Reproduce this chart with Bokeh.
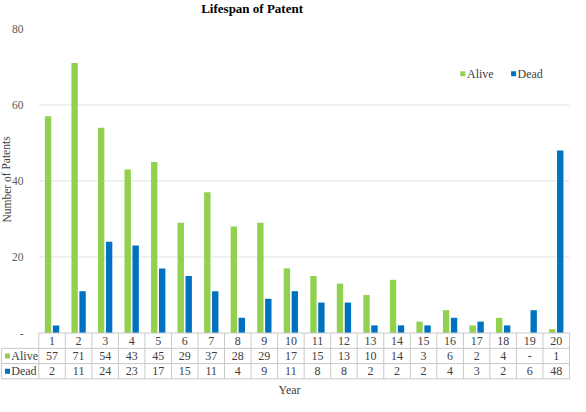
from bokeh.plotting import figure
from bokeh.models import Range1d, ColumnDataSource
from bokeh.core.properties import value
from bokeh.embed import file_html
from bokeh.resources import INLINE

# ---------------- data ----------------
years = [str(i) for i in range(1, 21)]
alive = [57, 71, 54, 43, 45, 29, 37, 28, 29, 17, 15, 13, 10, 14, 3, 6, 2, 4, 0, 1]
dead = [2, 11, 24, 23, 17, 15, 11, 4, 9, 11, 8, 8, 2, 2, 2, 4, 3, 2, 6, 48]
series_names = ["Alive", "Dead"]
y_ticks = [0, 20, 40, 60, 80]
y_tick_labels = ["-", "20", "40", "60", "80"]
grid_values = [20, 40, 60]
title_text = "Lifespan of Patent"
y_title = "Number of Patents"
x_title = "Year"

GREEN = "#92D050"
BLUE = "#0070C0"
TXT = "#404040"
TICK = "#595959"
BORDER = "#C8C8C8"
GRID = "#E3E3E3"
FONT = "'Liberation Serif', serif"

# ---------------- layout (pixels) ----------------
W, H = 570, 396
L_PX, R_PX = 38.3, 569.0      # left/right of category area
Y0_PX, Y80_PX = 332.5, 28.4   # pixel rows of value 0 and 80
n = len(years)
ux = (R_PX - L_PX) / n
uy = (Y0_PX - Y80_PX) / 80.0


def dx(px):
    return 0.5 + (px - L_PX) / ux


def dy(py):
    return (Y0_PX - py) / uy


p = figure(width=W, height=H, output_backend="svg", toolbar_location=None,
           x_range=Range1d(dx(0), dx(W)), y_range=Range1d(dy(H), dy(0)),
           x_axis_location=None, y_axis_location=None, min_border=0)
p.outline_line_color = None
p.background_fill_color = "white"
p.border_fill_color = "white"
p.xgrid.visible = False
p.ygrid.visible = False

xs = [i + 1 for i in range(n)]

# gridlines
p.segment(x0=[0.5] * len(grid_values), x1=[n + 0.5] * len(grid_values),
          y0=grid_values, y1=grid_values, line_color=GRID, line_width=1)

# bars
off = 0.15
bw = 0.24
p.vbar(x=[x - off for x in xs], top=alive, bottom=0, width=bw,
       fill_color=GREEN, line_color=None)
p.vbar(x=[x + off for x in xs], top=dead, bottom=0, width=bw,
       fill_color=BLUE, line_color=None)

# y tick labels
p.text(x=[dx(23.0)] * len(y_ticks), y=y_ticks, text=y_tick_labels,
       text_align="right", text_baseline="middle", text_color=TICK,
       text_font=value(FONT), text_font_size="11.5px")

# y axis title
p.text(x=[dx(6.0)], y=[dy(179.0)], text=[y_title], angle=1.5708,
       text_align="center", text_baseline="middle", text_color=TXT,
       text_font=value(FONT), text_font_size="11.5px")

# title
p.text(x=[dx(251.6)], y=[dy(7.5)], text=[title_text], text_align="center",
       text_baseline="middle", text_color="#000000", text_font=value(FONT),
       text_font_size="13px", text_font_style="bold")

# legend
leg_y = dy(73.3)
p.rect(x=[dx(462.3), dx(513.1)], y=[leg_y, leg_y], width=5, height=5,
       width_units="screen", height_units="screen",
       fill_color=[GREEN, BLUE], line_color=None)
p.text(x=[dx(466.5), dx(517.0)], y=[leg_y, leg_y], text=series_names,
       text_align="left", text_baseline="middle", text_color=TXT,
       text_font=value(FONT), text_font_size="12px")

# ---------------- data table ----------------
row_px = [Y0_PX, 347.8, 363.1, 378.4]
tbl_left = dx(0.8)
right = n + 0.5
# horizontal lines
p.segment(x0=[0.5, tbl_left, tbl_left, tbl_left],
          x1=[right] * 4,
          y0=[dy(v) for v in row_px], y1=[dy(v) for v in row_px],
          line_color=BORDER, line_width=1)
# vertical lines
vx = [i + 0.5 for i in range(n + 1)]
p.segment(x0=vx, x1=vx, y0=[dy(row_px[0])] * len(vx), y1=[dy(row_px[3])] * len(vx),
          line_color=BORDER, line_width=1)
p.segment(x0=[tbl_left], x1=[tbl_left], y0=[dy(row_px[1])], y1=[dy(row_px[3])],
          line_color=BORDER, line_width=1)

mid = [dy((row_px[k] + row_px[k + 1]) / 2) for k in range(3)]
alive_labels = [str(v) if v else "-" for v in alive]
dead_labels = [str(v) if v else "-" for v in dead]
tsrc = ColumnDataSource(dict(
    x=xs * 3,
    y=[mid[0]] * n + [mid[1]] * n + [mid[2]] * n,
    t=years + alive_labels + dead_labels,
))
p.text(x="x", y="y", text="t", source=tsrc, text_align="center",
       text_baseline="middle", text_color=TXT, text_font=value(FONT),
       text_font_size="12px")

# table legend column
p.rect(x=[dx(7.0), dx(7.0)], y=[mid[1], mid[2]], width=5, height=5,
       width_units="screen", height_units="screen",
       fill_color=[GREEN, BLUE], line_color=None)
p.text(x=[dx(10.8), dx(10.8)], y=[mid[1], mid[2]], text=series_names,
       text_align="left", text_baseline="middle", text_color=TXT,
       text_font=value(FONT), text_font_size="12px")

# x axis title
p.text(x=[dx(289.0)], y=[dy(389.5)], text=[x_title], text_align="center",
       text_baseline="middle", text_color=TXT, text_font=value(FONT),
       text_font_size="12px")

open("out.html", "w").write(file_html(p, INLINE))
